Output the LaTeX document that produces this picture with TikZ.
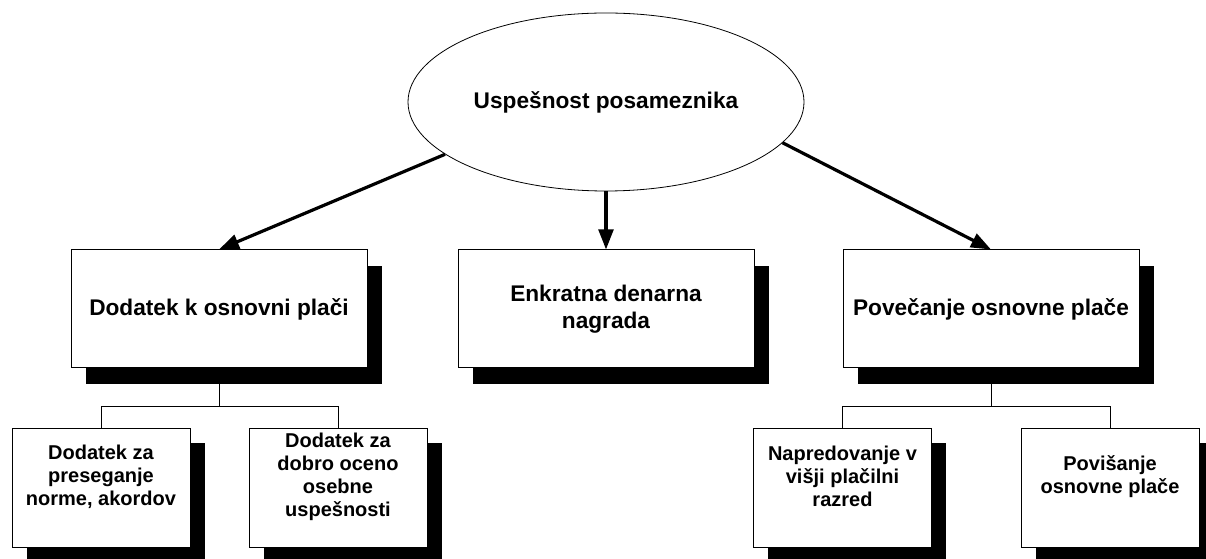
\documentclass[tikz,border=0pt]{standalone}
\usepackage{fontspec}
\setmainfont{Liberation Sans}
\usetikzlibrary{shapes.geometric,arrows.meta,shadows}
\begin{document}
\begin{tikzpicture}[x=0.75pt,y=-0.75pt,
  mainfont/.style={font=\fontsize{17}{20.4}\selectfont\bfseries},
  mainbox/.style={draw=black, line width=0.75pt, fill=white,
    minimum width=222pt, minimum height=88.5pt, inner sep=0pt,
    align=center, mainfont,
    general shadow={fill=black, shadow xshift=11.5pt, shadow yshift=-12pt}},
  subbox/.style={draw=black, line width=0.75pt, fill=white,
    minimum width=133.5pt, minimum height=89.25pt, inner sep=0pt,
    general shadow={fill=black, shadow xshift=11pt, shadow yshift=-11.25pt}},
  subtext/.style={align=center, inner sep=0pt,
    font=\fontsize{15}{17.25}\selectfont\bfseries},
  arrow/.style={line width=2.4pt, -{Triangle[length=15pt,width=11pt]}},
  link/.style={line width=0.75pt}
]
\useasboundingbox (0,0) rectangle (1206,559);
\clip (0,0) rectangle (1206,559);

% top-level goal
\node[ellipse, draw=black, line width=0.6pt, fill=white,
      minimum width=297pt, minimum height=133.5pt, inner sep=0pt, mainfont]
      (top) at (606,102) {Uspešnost posameznika};

% three reward types
\node[mainbox] (dod) at (219,309) {Dodatek k osnovni plači};
\node[mainbox] (enk) at (606,309) {Enkratna denarna\\nagrada};
\node[mainbox] (pov) at (991,309) {Povečanje osnovne plače};

% connectors from the goal
\draw[arrow] (top.198) -- (dod.north);
\draw[arrow] (top.south) -- (enk.north);
\draw[arrow] (top.347) -- (pov.north);

% sub-boxes
\node[subbox] (sa) at (101,487.5) {};
\node[subbox] (sb) at (338,487.5) {};
\node[subbox] (sc) at (842.5,487.5) {};
\node[subbox] (sd) at (1110,487.5) {};

\node[subtext] (ta) at (101,476.5) {Dodatek za\\preseganje\\norme, akordov};
\node[subtext] (tb) at (338,476.5) {Dodatek za\\dobro oceno\\osebne\\uspešnosti};
\node[subtext] (tc) at (842.5,476.5) {Napredovanje v\\višji plačilni\\razred};
\node[subtext] (td) at (1110,476.5) {Povišanje\\osnovne plače};

% tree connectors to the sub-boxes
\draw[link] (dod.south) -- ++(0,38) coordinate (dj);
\draw[link] (sa.north) |- (dj) -| (sb.north);
\draw[link] (pov.south) -- ++(0,38) coordinate (pj);
\draw[link] (sc.north) |- (pj) -| (sd.north);
\end{tikzpicture}
\end{document}
